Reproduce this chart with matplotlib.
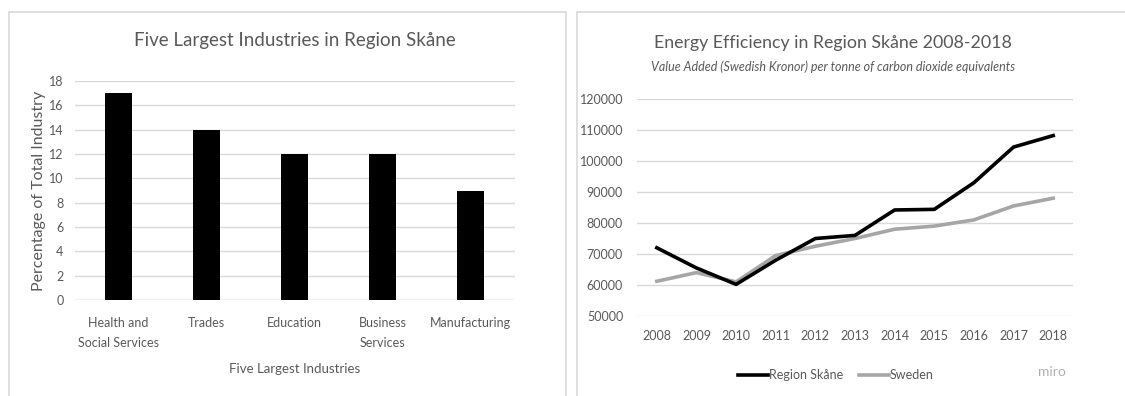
import matplotlib
matplotlib.use("Agg")
import matplotlib.pyplot as plt
from matplotlib.patches import Rectangle
from matplotlib.lines import Line2D

plt.rcParams['font.family'] = ['Lato', 'DejaVu Sans']

industries = ["Health and\nSocial Services", "Trades", "Education", "Business\nServices", "Manufacturing"]
shares = [17, 14, 12, 12, 9]

years = [2008, 2009, 2010, 2011, 2012, 2013, 2014, 2015, 2016, 2017, 2018]
skane = [72000, 65500, 60200, 68000, 75000, 76000, 84200, 84400, 93000, 104500, 108200]
sweden = [61200, 64000, 61000, 69500, 72500, 75000, 78000, 79000, 81000, 85500, 88000]

text_col = "#595959"
grid_col = "#d9d9d9"


def main():
    fig = plt.figure(figsize=(11.25, 3.96), dpi=100)

    # panel frames
    for x0, x1 in [(9, 566), (577, 1130)]:
        fig.patches.append(Rectangle((x0 / 1125, -0.05), (x1 - x0) / 1125, 1.05 - 12 / 396,
                                     transform=fig.transFigure, fill=False,
                                     edgecolor="#d9d9d9", linewidth=1.2))

    # left: bar chart
    ax1 = fig.add_axes([74.5 / 1125, 1 - 300 / 396, 440 / 1125, 219 / 396])
    pos = range(len(industries))
    ax1.bar(pos, shares, width=0.31, color="black", zorder=3)
    ax1.set_xlim(-0.5, len(industries) - 0.5)
    ax1.set_ylim(0, 18)
    ax1.set_yticks(range(0, 19, 2))
    ax1.set_xticks(list(pos))
    ax1.set_xticklabels(industries, fontsize=9, color=text_col, linespacing=1.8)
    ax1.tick_params(axis="y", labelsize=9, labelcolor=text_col, length=0, pad=8)
    ax1.tick_params(axis="x", length=0, pad=12)
    ax1.yaxis.grid(True, color=grid_col, linewidth=1, zorder=0)
    for s in ax1.spines.values():
        s.set_visible(False)
    ax1.axhline(0, color=grid_col, linewidth=1, zorder=1)
    ax1.set_ylabel("Percentage of Total Industry", fontsize=11.5, color=text_col, labelpad=2)
    ax1.set_xlabel("Five Largest Industries", fontsize=9.5, color=text_col, labelpad=10)
    ax1.set_title("Five Largest Industries in Region Skåne", fontsize=13.5, color=text_col, pad=25)

    # right: line chart
    ax2 = fig.add_axes([637 / 1125, 1 - 316 / 396, 436 / 1125, 217 / 396])
    ax2.plot(years, skane, color="black", linewidth=2.6, zorder=4, label="Region Skåne")
    ax2.plot(years, sweden, color="#a6a6a6", linewidth=2.6, zorder=3, label="Sweden")
    ax2.set_xlim(years[0] - 0.5, years[-1] + 0.5)
    ax2.set_ylim(50000, 120000)
    ax2.set_yticks(range(50000, 120001, 10000))
    ax2.set_xticks(years)
    ax2.tick_params(axis="both", labelsize=9, labelcolor=text_col, length=0)
    ax2.tick_params(axis="y", pad=10)
    ax2.tick_params(axis="x", pad=10)
    ax2.yaxis.grid(True, color=grid_col, linewidth=1, zorder=0)
    for s in ax2.spines.values():
        s.set_visible(False)
    fig.text(833 / 1125, 1 - 43 / 396, "Energy Efficiency in Region Skåne 2008-2018",
             fontsize=12.8, color=text_col, ha="center", va="center")
    fig.text(833 / 1125, 1 - 67 / 396, "Value Added (Swedish Kronor) per tonne of carbon dioxide equivalents",
             fontsize=9, color=text_col, style="italic", ha="center", va="center")

    handles = [Line2D([], [], color="black", linewidth=2.6),
               Line2D([], [], color="#a6a6a6", linewidth=2.6)]
    fig.legend(handles, ["Region Skåne", "Sweden"], loc="center", bbox_to_anchor=(836 / 1125, 1 - 375 / 396),
               ncol=2, frameon=False, fontsize=9, labelcolor=text_col, handlelength=2.4,
               handletextpad=0.1, columnspacing=1.2)
    fig.text(1052 / 1125, 1 - 372 / 396, "miro", fontsize=10, color="#b0b0b0", ha="center", va="center")

    fig.savefig("out.png", dpi=100)


if __name__ == "__main__":
    main()
